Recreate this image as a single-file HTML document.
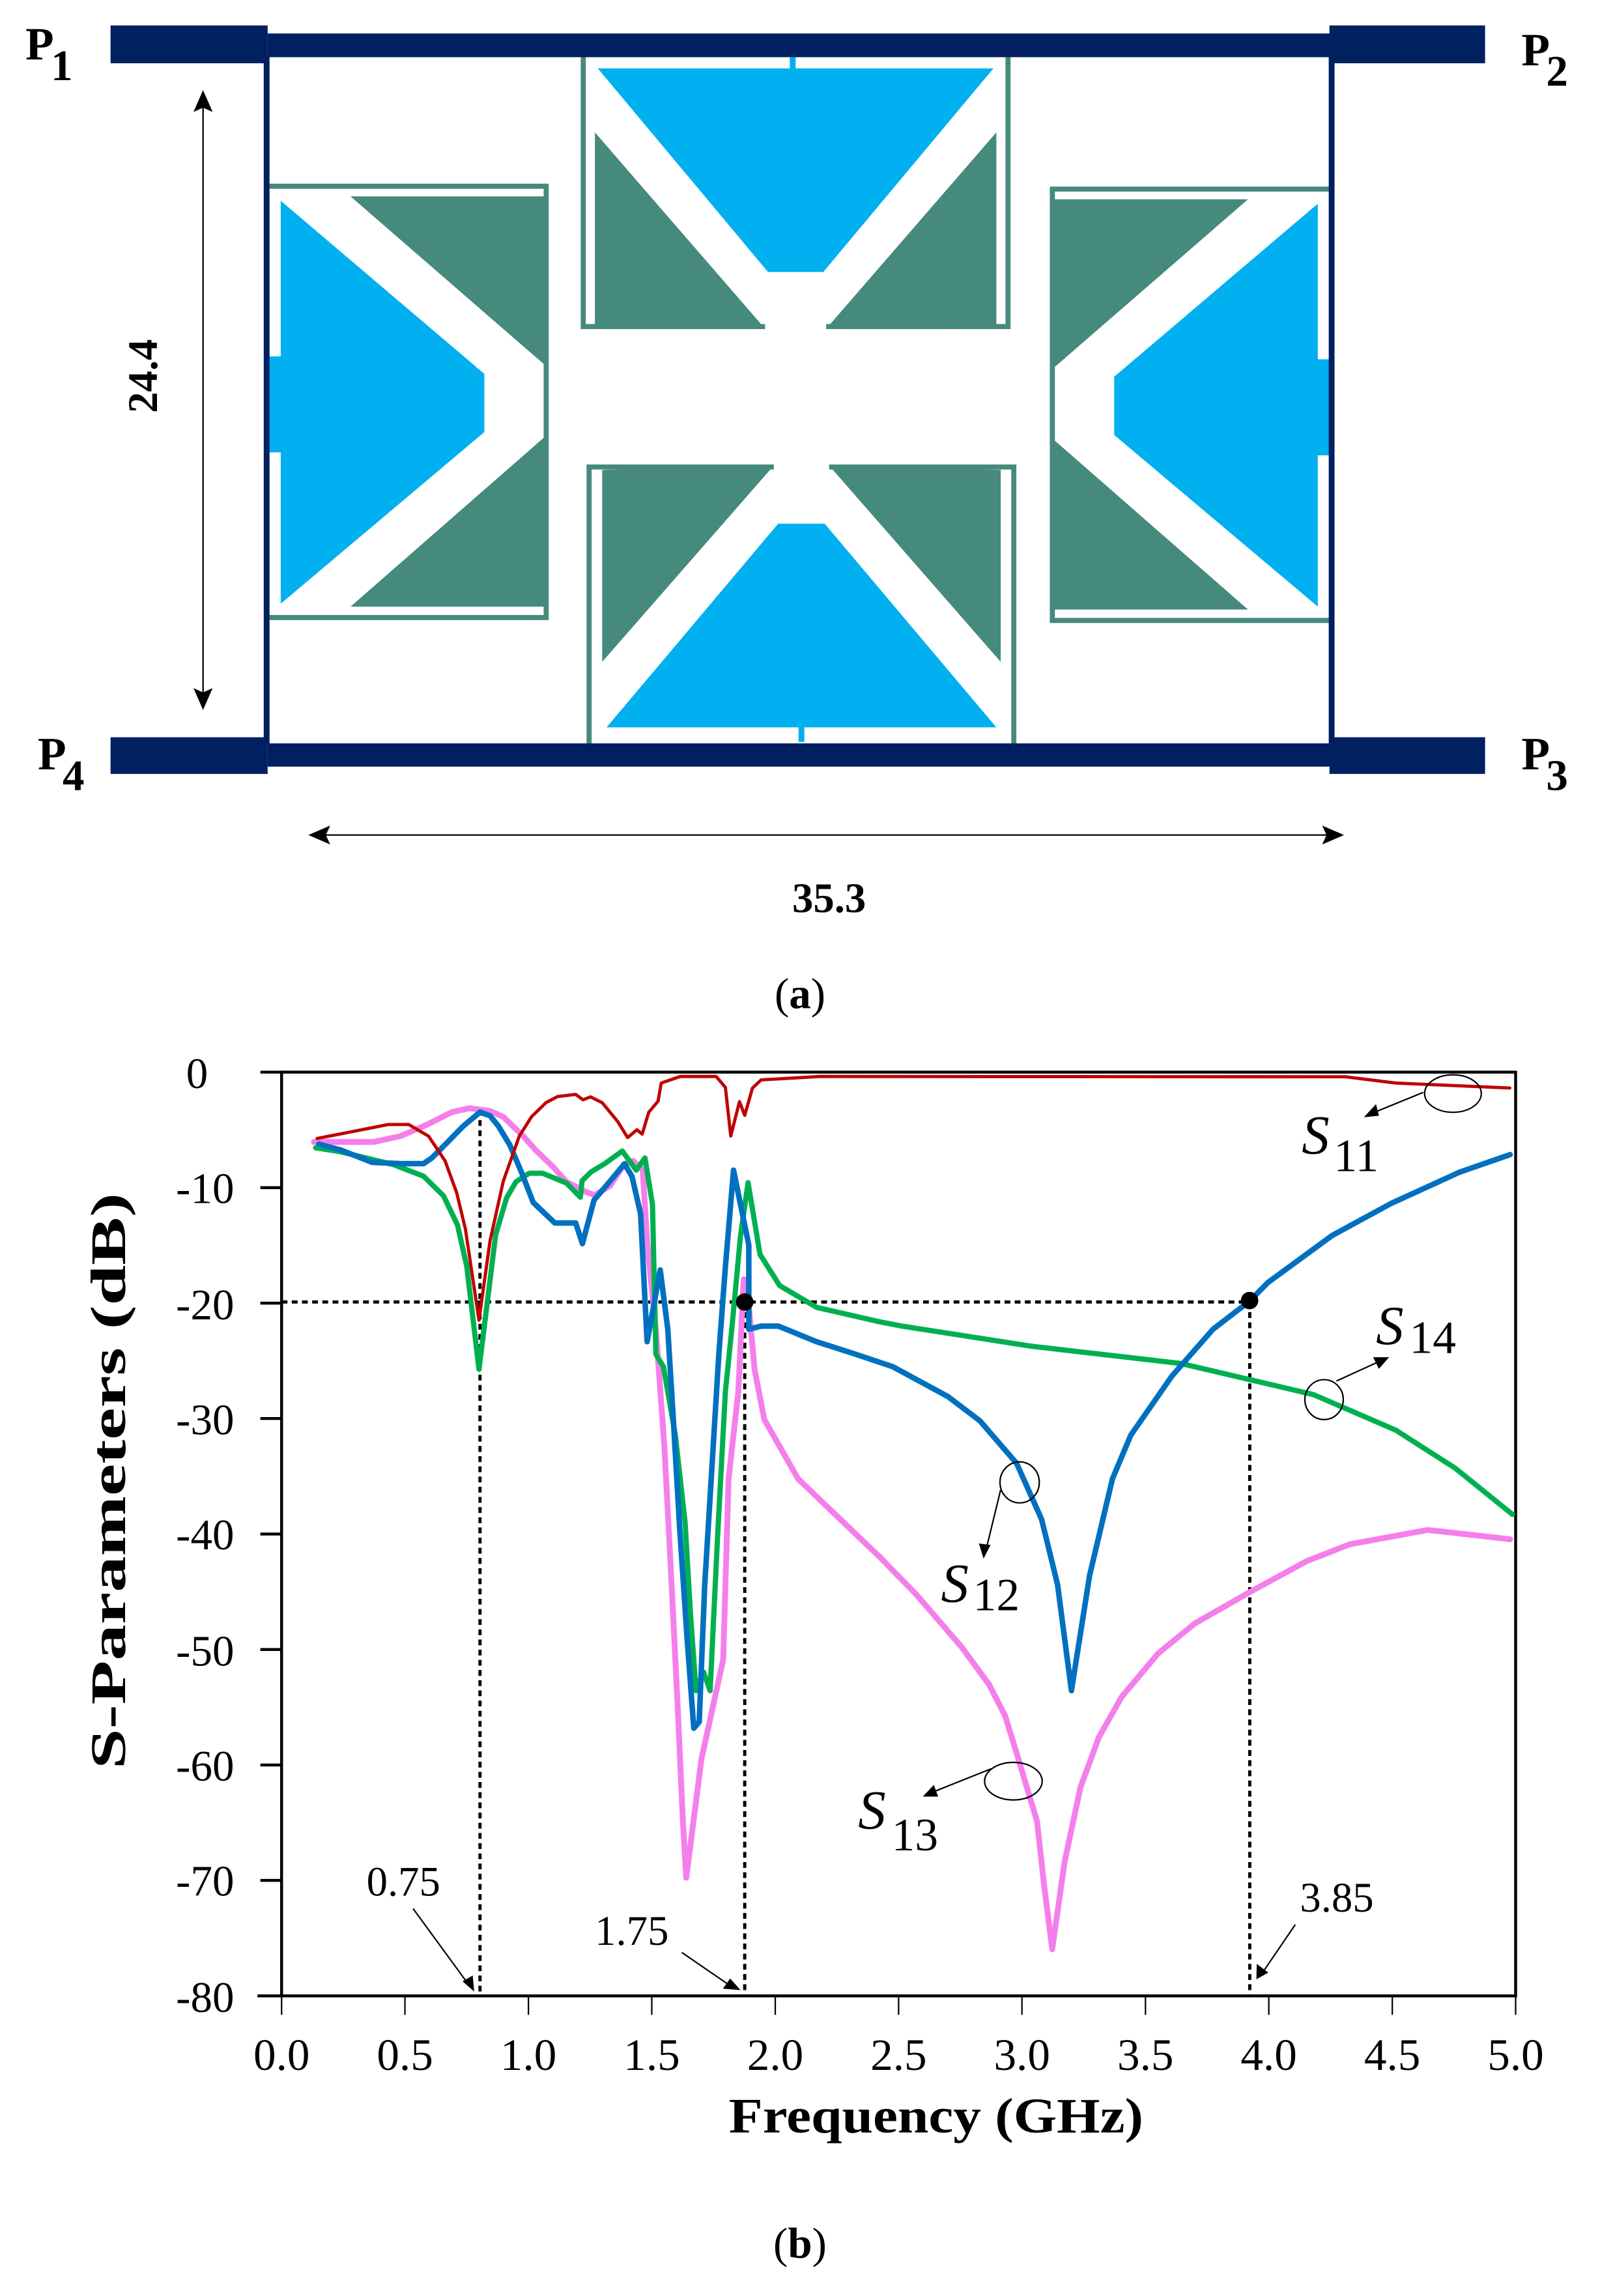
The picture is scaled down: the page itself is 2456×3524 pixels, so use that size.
<!DOCTYPE html>
<html><head><meta charset="utf-8"><style>
html,body{margin:0;padding:0;background:#fff;}
svg{display:block;font-family:"Liberation Serif",serif;}
text{font-family:"Liberation Serif",serif;}
</style></head><body>
<svg xmlns="http://www.w3.org/2000/svg" width="2456" height="3524" viewBox="0 0 1100 1578.3" preserveAspectRatio="none" font-family="Liberation Serif, serif">
<rect width="1100" height="1578.3" fill="#fff"/>
<!-- ===== (a) layout ===== -->
<g>
  <polyline points="184,128 375.5,128 375.5,424.5 184,424.5" fill="none" stroke="#458A7C" stroke-width="3.5"/>
  <polygon points="241,135 377,135 377,253" fill="#458A7C"/>
  <polygon points="376,299 376,417 241,417" fill="#458A7C"/>
  <polygon points="193,138 333,257 333,297 193,415" fill="#00B0F0"/>
  <rect x="184" y="245" width="9.5" height="66" fill="#00B0F0"/>
</g>
<g transform="translate(1099,2) scale(-1,1)">
  <polyline points="184,128 375.5,128 375.5,424.5 184,424.5" fill="none" stroke="#458A7C" stroke-width="3.5"/>
  <polygon points="241,135 377,135 377,253" fill="#458A7C"/>
  <polygon points="376,299 376,417 241,417" fill="#458A7C"/>
  <polygon points="193,138 333,257 333,297 193,415" fill="#00B0F0"/>
  <rect x="184" y="245" width="9.5" height="66" fill="#00B0F0"/>
</g>
<g>
  <polyline points="401,34 401,224.5 526,224.5" fill="none" stroke="#458A7C" stroke-width="3.5"/>
  <polygon points="409,91 409,223 526,226" fill="#458A7C"/>
</g>
<g transform="translate(1094,0) scale(-1,1)">
  <polyline points="401,34 401,224.5 526,224.5" fill="none" stroke="#458A7C" stroke-width="3.5"/>
  <polygon points="409,91 409,223 526,226" fill="#458A7C"/>
</g>
<polygon points="411,47 683,47 566,187 528,187" fill="#00B0F0"/>
<rect x="543" y="34" width="4" height="13" fill="#00B0F0"/>
<g>
  <polyline points="405,513 405,321 532,321" fill="none" stroke="#458A7C" stroke-width="3.5"/>
  <polygon points="414,323 532,320 414,455" fill="#458A7C"/>
</g>
<g transform="translate(1102,0) scale(-1,1)">
  <polyline points="405,513 405,321 532,321" fill="none" stroke="#458A7C" stroke-width="3.5"/>
  <polygon points="414,323 532,320 414,455" fill="#458A7C"/>
</g>
<polygon points="535,360 567,360 685,500 417,500" fill="#00B0F0"/>
<rect x="549" y="497" width="4" height="13" fill="#00B0F0"/>
<g fill="#002060">
  <rect x="76" y="17.5" width="108" height="26"/>
  <rect x="184" y="23" width="732" height="16.3"/>
  <rect x="914" y="17.5" width="107" height="26"/>
  <rect x="76" y="506.8" width="108" height="25.2"/>
  <rect x="184" y="511" width="732" height="16"/>
  <rect x="914" y="506.8" width="107" height="25.2"/>
  <rect x="181.3" y="38" width="4" height="474"/>
  <rect x="913.5" y="38" width="4" height="474"/>
</g>
<g font-weight="bold" fill="#000">
  <text x="17.5" y="41" font-size="32">P</text><text x="35" y="55" font-size="30">1</text>
  <text x="1046" y="45" font-size="32">P</text><text x="1063" y="59" font-size="30">2</text>
  <text x="26" y="529" font-size="32">P</text><text x="43" y="543" font-size="30">4</text>
  <text x="1046" y="529" font-size="32">P</text><text x="1063" y="543" font-size="30">3</text>
</g>
<line x1="139.6" y1="70" x2="139.6" y2="480" stroke="#000" stroke-width="1"/>
<polygon points="139.6,62 133,77 139.6,74 146.2,77" fill="#000"/>
<polygon points="139.6,488 133,473 139.6,476 146.2,473" fill="#000"/>
<text transform="translate(108,258.5) rotate(-90)" text-anchor="middle" font-size="29" font-weight="bold">24.4</text>
<line x1="220" y1="574" x2="916" y2="574" stroke="#000" stroke-width="1"/>
<polygon points="212,574 227,567.5 224,574 227,580.5" fill="#000"/>
<polygon points="924,574 909,567.5 912,574 909,580.5" fill="#000"/>
<text x="570" y="627" text-anchor="middle" font-size="29" font-weight="bold">35.3</text>
<text x="550" y="693" text-anchor="middle" font-size="30">(<tspan font-weight="bold">a</tspan>)</text>

<!-- ===== (b) chart ===== -->
<g stroke="#000" stroke-width="2" fill="none">
  <rect x="193.6" y="737" width="848.4" height="635"/>
  <line x1="179" y1="737" x2="193.6" y2="737"/>
  <line x1="179" y1="816.4" x2="193.6" y2="816.4"/>
  <line x1="179" y1="895.8" x2="193.6" y2="895.8"/>
  <line x1="179" y1="975.1" x2="193.6" y2="975.1"/>
  <line x1="179" y1="1054.5" x2="193.6" y2="1054.5"/>
  <line x1="179" y1="1133.9" x2="193.6" y2="1133.9"/>
  <line x1="179" y1="1213.3" x2="193.6" y2="1213.3"/>
  <line x1="179" y1="1292.6" x2="193.6" y2="1292.6"/>
  <line x1="177" y1="1372" x2="193.6" y2="1372"/>
</g>
<g stroke="#000" stroke-width="1">
  <line x1="193.6" y1="1372" x2="193.6" y2="1385"/>
  <line x1="278.4" y1="1372" x2="278.4" y2="1385"/>
  <line x1="363.3" y1="1372" x2="363.3" y2="1385"/>
  <line x1="448.1" y1="1372" x2="448.1" y2="1385"/>
  <line x1="533" y1="1372" x2="533" y2="1385"/>
  <line x1="617.8" y1="1372" x2="617.8" y2="1385"/>
  <line x1="702.6" y1="1372" x2="702.6" y2="1385"/>
  <line x1="787.5" y1="1372" x2="787.5" y2="1385"/>
  <line x1="872.3" y1="1372" x2="872.3" y2="1385"/>
  <line x1="957.2" y1="1372" x2="957.2" y2="1385"/>
  <line x1="1042" y1="1372" x2="1042" y2="1385"/>
</g>
<g font-size="30" text-anchor="end" fill="#000">
  <text x="143" y="748">0</text>
  <text x="161" y="827">-10</text>
  <text x="161" y="907">-20</text>
  <text x="161" y="986">-30</text>
  <text x="161" y="1065">-40</text>
  <text x="161" y="1145">-50</text>
  <text x="161" y="1224">-60</text>
  <text x="161" y="1303">-70</text>
  <text x="161" y="1383">-80</text>
</g>
<g font-size="31" text-anchor="middle" fill="#000">
  <text x="193.6" y="1423">0.0</text>
  <text x="278.4" y="1423">0.5</text>
  <text x="363.3" y="1423">1.0</text>
  <text x="448.1" y="1423">1.5</text>
  <text x="533" y="1423">2.0</text>
  <text x="617.8" y="1423">2.5</text>
  <text x="702.6" y="1423">3.0</text>
  <text x="787.5" y="1423">3.5</text>
  <text x="872.3" y="1423">4.0</text>
  <text x="957.2" y="1423">4.5</text>
  <text x="1042" y="1423">5.0</text>
</g>
<text x="501" y="1466" font-size="34" font-weight="bold" textLength="285" lengthAdjust="spacingAndGlyphs">Frequency  (GHz)</text>
<text transform="translate(86,1216) rotate(-90)" font-size="34" font-weight="bold" textLength="396" lengthAdjust="spacingAndGlyphs">S-Parameters (dB)</text>

<g stroke="#000" stroke-width="2.2" stroke-dasharray="4,3" fill="none">
  <line x1="193.6" y1="895" x2="859" y2="895"/>
  <line x1="330" y1="763" x2="330" y2="1372"/>
  <line x1="512" y1="895" x2="512" y2="1372"/>
  <line x1="859.2" y1="895" x2="859.2" y2="1372"/>
</g>

<g fill="none" stroke-linejoin="round" stroke-linecap="round">
<polyline stroke="#F47FEB" stroke-width="4" points="215.8,785 256.9,785 275.2,781 293.4,773.2 310.6,764.5 322.7,761.8 336.9,763.7 346,767.7 359.7,781 368.9,791.2 380.3,802.2 389.4,812.4 403,819.4 409,821.6 419.5,815 429.2,800.2 435.2,798 441.9,804.4 444.9,853.7 450.9,913.7 456.8,995.1 461.3,1080.8 465.8,1170.8 469.5,1252 471.8,1290.8 482.2,1209.4 497.2,1140.8 500.9,1016.6 507.6,956.6 511.3,879.4 515.1,900.9 518.8,941.6 525.5,975.9 548.7,1016.6 604.6,1070.1 629.7,1095.8 661.2,1132.3 680,1158 691,1179.4 698.9,1205 713,1252.2 717.7,1295 723.4,1340 731.9,1280 742.8,1228.7 755.4,1194.4 771.1,1166.5 796.3,1136.5 821.4,1116 859.1,1094.5 898.4,1073.1 928.2,1061.5 981.6,1051.7 1038.2,1058.1"/>
<polyline stroke="#00B050" stroke-width="3.6" points="217,789 234,791.7 270.6,800.6 291.2,808.5 304.9,822 314.5,842 320.9,870.5 329.3,941.3 336.9,880 340.8,848.6 348.3,823.4 354.7,812.4 363.8,806.5 373,806.5 389.4,813.2 399,823 400.2,811.6 406.6,805.4 415.7,800 427.8,791.2 437.4,804.4 443.4,796 448.6,828 450.9,930.9 456.1,939.4 464.3,986.6 471,1046.5 474.8,1110.8 478.5,1162.2 483.7,1149.4 488.2,1162.2 493.4,1055 498.7,956.6 503.1,913.7 509.1,849.4 514.3,813 522.5,862.3 536,883.7 561.4,898.7 604.6,908.6 620.3,911.6 708.3,925.3 812,937.3 903.1,958.7 959.6,983.1 1000.5,1009.3 1039.8,1041"/>
<polyline stroke="#0070C0" stroke-width="3.8" points="219.2,786.5 234,790.4 255.7,799 275.2,799.9 291.2,799.9 296.9,796 304.9,788 318.6,774 330,764.5 336.9,767 342.6,774 350.6,787.3 358.6,806 366.6,826.6 381.4,840.7 395.8,840.7 400.4,854.9 408.4,825 420.3,810.9 429.3,800 434.5,808.7 440.4,834.4 444.9,922.3 453.9,873 459.1,913.7 462.8,973.7 467.3,1050.8 472.5,1128 477,1188 480.7,1183.7 484.5,1089.4 494.2,930.9 498.7,870.9 504.3,804.4 509.1,828 514.8,855.9 514.8,913.7 523.3,911.6 535.2,911.6 561.4,922.3 588.2,930.9 613.6,939.4 651.7,960 673.7,976.7 698.9,1005.9 716.1,1044.4 727.1,1089.4 736.6,1162.2 749.1,1083 764.8,1016.6 777.4,986.6 805.7,945.9 834,913.7 859.1,894.4 871.7,881.6 915.7,849.4 956.5,827.2 1003.6,805.7 1038.2,793.7"/>
<polyline stroke="#C00000" stroke-width="2.2" points="218,782.6 267,773 281,773 294.6,781 306,798 314,820 320,845 329.3,907.5 336.9,853 346,812 357,781 365.4,767.7 375.3,758 383.3,753.8 395.8,752.3 400.8,756 406,754 414,758 424.7,771 431.5,782 437.9,776.6 441.5,779.6 446,764.6 452.4,757 454.6,744.5 467.6,740 492.4,740 498.7,747.5 502.4,780.9 508.4,757.3 512,766.7 517.3,748 523.3,742.3 563.6,740 925,740.2 959.6,744.5 1038,747.9"/>
</g>
<circle cx="512" cy="895" r="6" fill="#000"/>
<circle cx="859.1" cy="894" r="6" fill="#000"/>

<g fill="none" stroke="#000" stroke-width="1">
  <ellipse cx="998.9" cy="751.7" rx="19.5" ry="12.9"/>
  <line x1="978.5" y1="750.9" x2="944" y2="765"/>
  <ellipse cx="910.3" cy="962.1" rx="13.2" ry="13.7"/>
  <line x1="918.8" y1="949.3" x2="948" y2="936"/>
  <ellipse cx="701" cy="1019" rx="13.5" ry="14.1"/>
  <line x1="687.9" y1="1024.3" x2="678" y2="1065"/>
  <ellipse cx="696.7" cy="1224.4" rx="19.8" ry="12.9"/>
  <line x1="681.6" y1="1215.8" x2="641" y2="1232"/>
  <line x1="890.5" y1="1323" x2="868" y2="1356"/>
  <line x1="468.8" y1="1342.2" x2="502" y2="1365"/>
  <line x1="284" y1="1312" x2="322" y2="1364"/>
</g>
<g fill="#000">
  <polygon points="937.7,768 946,759 948,767"/>
  <polygon points="955,933 944,933 948,941"/>
  <polygon points="676.2,1071.4 673,1061 681,1062"/>
  <polygon points="634.4,1235 642,1227 645,1235"/>
  <polygon points="863.8,1360.6 864,1350 872,1356"/>
  <polygon points="509.1,1368 497,1367 502,1360"/>
  <polygon points="326,1369 318,1362 325,1358"/>
</g>
<g font-size="38" fill="#000">
  <text x="895" y="793"><tspan font-style="italic">S</tspan><tspan x="917" y="805" font-size="32">11</tspan></text>
  <text x="946" y="924"><tspan font-style="italic">S</tspan><tspan x="969" y="930" font-size="32">14</tspan></text>
  <text x="647" y="1101"><tspan font-style="italic">S</tspan><tspan x="669" y="1107" font-size="32">12</tspan></text>
  <text x="590" y="1257"><tspan font-style="italic">S</tspan><tspan x="613" y="1272" font-size="32">13</tspan></text>
</g>
<g font-size="29" fill="#000">
  <text x="893.7" y="1314">3.85</text>
  <text x="409" y="1337">1.75</text>
  <text x="252" y="1303">0.75</text>
</g>
<text x="550" y="1552" text-anchor="middle" font-size="30">(<tspan font-weight="bold">b</tspan>)</text>
</svg>
</body></html>
